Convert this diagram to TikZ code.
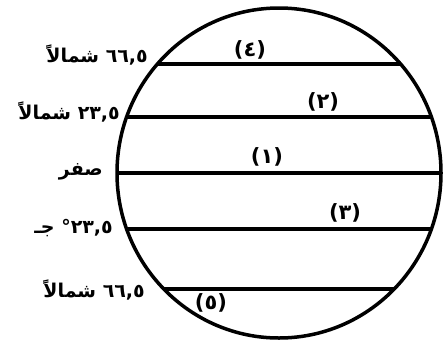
\documentclass[tikz,border=0pt]{standalone}
\usepackage{fontspec}
\newfontfamily\arabicfont[Script=Arabic]{DejaVu Sans}
\TeXXeTstate=1
\begin{document}
\begin{tikzpicture}[x=1pt,y=-1pt,
  lat/.style={font=\arabicfont\bfseries\fontsize{19}{21}\selectfont, anchor=east, inner sep=0pt},
  num/.style={font=\arabicfont\bfseries\fontsize{21}{23}\selectfont, inner sep=0pt},
  chord/.style={line width=4.5pt}]
\useasboundingbox (0,0) rectangle (446,343);
\fill[white] (0,0) rectangle (446,343);
\begin{scope}
  \clip (279,173) ellipse [x radius=162, y radius=165];
  \draw[chord] (100,64) -- (460,64);
  \draw[chord] (100,117) -- (460,117);
  \draw[chord] (100,173) -- (460,173);
  \draw[chord] (100,229) -- (460,229);
  \draw[chord] (100,289) -- (460,289);
\end{scope}
\draw[line width=3.5pt] (279,173) ellipse [x radius=162, y radius=165];
\node[num] (n4) at (250,50) {(٤)};
\node[num] (n2) at (323,102) {(٢)};
\node[num] (n1) at (267,157) {(١)};
\node[num] (n3) at (345,213) {(٣)};
\node[num] (n5) at (211,303) {(٥)};
\node[lat] (l1) at (148,55) {\beginR\beginL٦٦,٥\endL{} شمالاً\endR};
\node[lat] (l2) at (120,112) {\beginR\beginL٢٣,٥\endL{} شمالاً\endR};
\node[lat] (l3) at (103,172) {\beginR صفر\endR};
\node[lat] (l4) at (113,228) {\beginR\beginL٢٣,٥°\endL{} جـ\endR};
\node[lat] (l5) at (145,290) {\beginR\beginL٦٦,٥\endL{} شمالاً\endR};
\end{tikzpicture}
\end{document}
